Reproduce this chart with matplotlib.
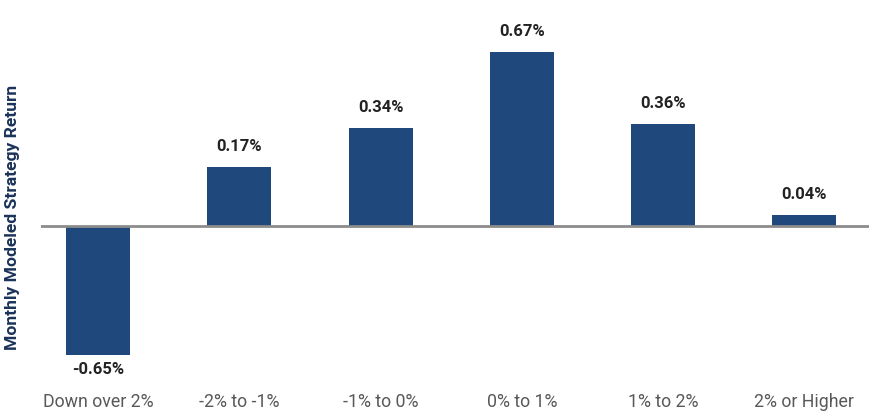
import matplotlib
matplotlib.use("Agg")
import matplotlib.pyplot as plt

plt.rcParams['font.family'] = ['Roboto', 'DejaVu Sans']

categories = ["Down over 2%", "-2% to -1%", "-1% to 0%", "0% to 1%", "1% to 2%", "2% or Higher"]
# bar heights as drawn in the reference (chart units)
bar_heights = [-0.495, 0.228, 0.377, 0.67, 0.392, 0.042]
# values printed on the bars
value_labels = [-0.65, 0.17, 0.34, 0.67, 0.36, 0.04]

W, H = 888, 416
fig = plt.figure(figsize=(W / 100, H / 100), dpi=100)

ax_left, ax_right = 41, 869
ax_top, ax_bottom = 0, 390
ax = fig.add_axes([ax_left / W, 1 - ax_bottom / H, (ax_right - ax_left) / W, (ax_bottom - ax_top) / H])

x = list(range(len(categories)))
bar_color = "#1F497D"
ax.bar(x, bar_heights, width=0.453, color=bar_color, zorder=2)
ax.axhline(0, color="#8C8C8C", linewidth=2.0, zorder=3)

ppu = 260.0  # pixels per unit
zero_px = 226
ax.set_ylim(-(ax_bottom - zero_px) / ppu, (zero_px - ax_top) / ppu)
ax.set_xlim(-0.404, 5.458)

for xi, h, v in zip(x, bar_heights, value_labels):
    txt = f"{v:.2f}%"
    if h >= 0:
        ax.annotate(txt, (xi, h), xytext=(0, 9.5), textcoords="offset points",
                    ha="center", va="bottom", fontsize=12, fontweight="bold", color="#222222")
    else:
        ax.annotate(txt, (xi, h), xytext=(0, -5.5), textcoords="offset points",
                    ha="center", va="top", fontsize=12, fontweight="bold", color="#222222")

ax.set_xticks(x)
ax.set_xticklabels(categories, fontsize=12.8, color="#595959")
ax.tick_params(axis="x", length=0, pad=2)
ax.set_yticks([])
for s in ax.spines.values():
    s.set_visible(False)

fig.text(13 / W, 1 - 217 / H, "Monthly Modeled Strategy Return", rotation=90,
         ha="center", va="center", fontsize=12.6, fontweight="bold", color="#1B3358")

fig.savefig("out.png", dpi=100)
